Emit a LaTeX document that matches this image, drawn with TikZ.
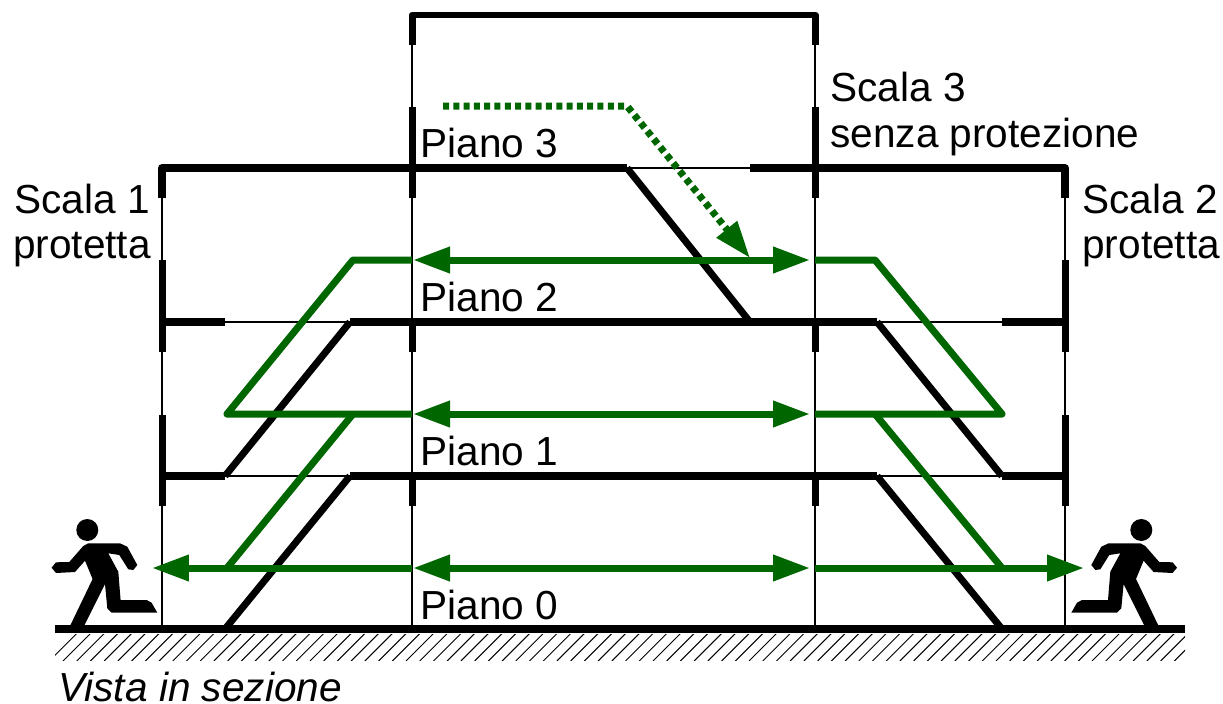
\documentclass[tikz,border=0pt]{standalone}
\usepackage{fontspec}
\setmainfont{Liberation Sans}
\usetikzlibrary{arrows.meta}
\definecolor{exitgreen}{RGB}{0,102,0}
\tikzset{
	wall/.style={line width=0.14cm},
	floorline/.style={line width=0.15cm},
	stair/.style={line width=0.14cm},
	thinline/.style={line width=0.028cm},
	route/.style={line width=0.14cm,color=exitgreen,line join=round},
	routetip/.tip={Triangle[length=0.74cm,width=0.5cm]},
	planlabel/.style={font=\fontsize{23.1}{26}\selectfont,inner sep=0pt},
	runner/.pic={
		\fill (0,0) circle (11);
		\fill (-17.3,96) -- (5.3,49) -- (-2.3,30.7) -- (-12.3,42) -- (-31.3,43) -- (-35.7,37.7) -- (-31.3,32.3) -- (-18,32) -- (-4,16) -- (1,13.3) -- (32.7,13.3) -- (40,16.7) -- (50,35) -- (46,40) -- (41,39.3) -- (32,25) -- (21,23.3) -- (31,41.7) -- (33.3,70) -- (59.3,70) -- (64.3,72.7) -- (70,82.7) -- (24.3,82.7) -- (20,78.3) -- (17.7,54) -- (-3.3,96) -- cycle;
	}
}

\begin{document}
\begin{tikzpicture}[x=0.02cm,y=-0.02cm]
	\useasboundingbox (0,0) rectangle (1223,703);
	% floors
	\coordinate (A0) at (55,629);
	\coordinate (B0) at (1185,629);
	\coordinate (A1) at (162,476);
	\coordinate (B1) at (225,476);
	\coordinate (C1) at (350,476);
	\coordinate (D1) at (877,476);
	\coordinate (E1) at (1002,476);
	\coordinate (F1) at (1065,476);
	\coordinate (A2) at (162,322);
	\coordinate (B2) at (225,322);
	\coordinate (C2) at (350,322);
	\coordinate (D2) at (877,322);
	\coordinate (E2) at (1002,322);
	\coordinate (F2) at (1065,322);
	\coordinate (A3) at (162,168);
	\coordinate (B3) at (627,168);
	\coordinate (C3) at (750,168);
	\coordinate (D3) at (1065,168);
	\coordinate (S1) at (225,629);
	\coordinate (S2) at (1002,629);
	\coordinate (S3) at (750,322);
	\draw[thinline] (162,629) -- (A3);
	\draw[thinline] (412,629) -- (412,15);
	\draw[thinline] (815,629) -- (815,15);
	\draw[thinline] (1065,629) -- (D3);
	\draw[thinline] (B1) -- (C1);
	\draw[thinline] (D1) -- (E1);
	\draw[thinline] (B2) -- (C2);
	\draw[thinline] (D2) -- (E2);
	\draw[thinline] (B3) -- (C3);
	\draw[floorline] (A0) -- (B0);
	\draw[floorline] (A1) -- (B1);
	\draw[floorline] (C1) -- (D1);
	\draw[floorline] (E1) -- (F1);
	\draw[floorline] (A2) -- (B2);
	\draw[floorline] (C2) -- (D2);
	\draw[floorline] (E2) -- (F2);
	\draw[floorline,line join=round] (162,198) -- (A3) -- (B3);
	\draw[floorline,line join=round] (C3) -- (D3) -- (1065,198);
	% walls
	\draw[wall,line join=round] (412,45) -- (412,15) -- (815,15) -- (815,45);
	\draw[wall] (412,107) -- (412,198);
	\draw[wall] (815,107) -- (815,198);
	\draw[wall] (162,260) -- (162,352);
	\draw[wall] (1065,260) -- (1065,352);
	\draw[wall] (162,415) -- (162,506);
	\draw[wall] (1065,415) -- (1065,506);
	\draw[wall] (412,322) -- (412,352);
	\draw[wall] (815,322) -- (815,352);
	\draw[wall] (412,476) -- (412,506);
	\draw[wall] (815,476) -- (815,506);
	% hatching
	\begin{scope}
		\clip (55,634) rectangle (1185,660);
		\foreach \i in {0,...,84}
			\draw[line width=0.02cm] (63+13.72*\i-13.72,661) -- +(30,-30);
	\end{scope}
	% stairs
	\draw[stair] (B1) -- (C2);
	\draw[stair] (S1) -- (C1);
	\draw[stair] (D2) -- (E1);
	\draw[stair] (D1) -- (S2);
	\draw[stair] (B3) -- (S3);
	% exit routes
	\coordinate (L2) at (412,260);
	\coordinate (M2) at (815,260);
	\coordinate (L1) at (412,414);
	\coordinate (M1) at (815,414);
	\coordinate (L0) at (412,568);
	\coordinate (M0) at (815,568);
	\coordinate (ExitL) at (152,568);
	\coordinate (ExitR) at (1084,568);
	\draw[route] (L2) -- (353,260) -- (227,414) -- (L1);
	\draw[route] (M2) -- (875,260) -- (1002,414) -- (M1);
	\draw[route] (353,414) -- (227,568);
	\draw[route] (875,414) -- (1002,568);
	\draw[route,routetip-routetip] (413,260) -- (810,260);
	\draw[route,routetip-routetip] (413,414) -- (810,414);
	\draw[route,routetip-routetip] (413,568) -- (810,568);
	\draw[route,-routetip] (L0) -- (ExitL);
	\draw[route,-routetip] (M0) -- (ExitR);
	\draw[route,line join=miter,dash pattern=on 0.12cm off 0.086cm,-routetip] (443,106) -- (627,106) -- (750,258);
	% people
	\pic at (87.3,530) {runner};
	\pic[xscale=-1] at (1141.3,530) {runner};
	% text
	\node[planlabel,anchor=base west] (P3) at (420,157) {Piano 3};
	\node[planlabel,anchor=base west] (P2) at (420,311) {Piano 2};
	\node[planlabel,anchor=base west] (P1) at (420,465) {Piano 1};
	\node[planlabel,anchor=base west] (P0) at (420,619) {Piano 0};
	\node[planlabel,anchor=base west] (SA) at (830,101) {Scala 3};
	\node[planlabel,anchor=base west] (SB) at (830,147) {senza protezione};
	\node[planlabel,anchor=base] (SC) at (82,213) {Scala 1};
	\node[planlabel,anchor=base] (SD) at (82,258) {protetta};
	\node[planlabel,anchor=base west] (SE) at (1082,213) {Scala 2};
	\node[planlabel,anchor=base west] (SF) at (1082,258) {protetta};
	\node[planlabel,anchor=base west,font=\fontsize{23.1}{26}\selectfont\itshape] (V) at (58,701) {Vista in sezione};
\end{tikzpicture}
\end{document}
